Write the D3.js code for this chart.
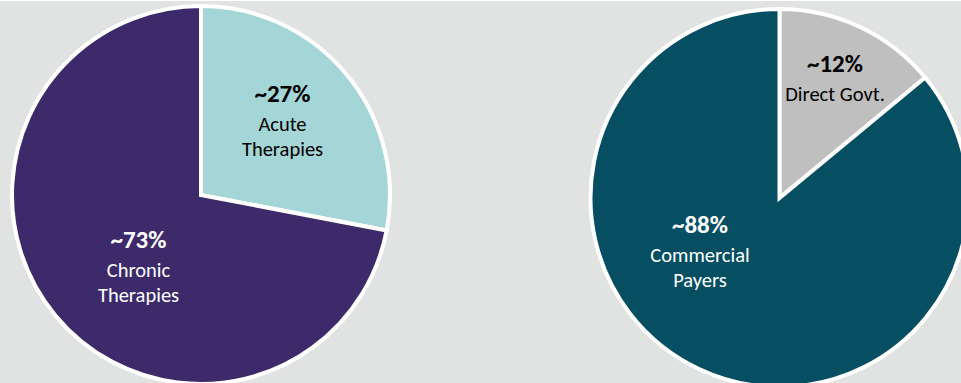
<!DOCTYPE html>
<html>
<head>
<meta charset="utf-8">
<script src="https://cdn.jsdelivr.net/npm/d3@7"></script>
<style>
  html, body { margin: 0; padding: 0; background: #ffffff; }
  svg { display: block; }
  text { font-family: Carlito, Lato, "Open Sans", sans-serif; }
</style>
</head>
<body>
<svg id="chart"></svg>
<script>
// slice shares as drawn (labels are rounded "~" figures)
const therapyNames = ["Acute Therapies", "Chronic Therapies"];
const therapyShares = [28, 72];
const therapyLabels = ["~27%", "~73%"];
const therapyLines = [["Acute", "Therapies"], ["Chronic", "Therapies"]];

const payerNames = ["Direct Govt.", "Commercial Payers"];
const payerShares = [14, 86];
const payerLabels = ["~12%", "~88%"];
const payerLines = [["Direct Govt."], ["Commercial", "Payers"]];

const width = 961;
const height = 383;
const radius = 189;

const svg = d3.select("#chart")
  .attr("width", width)
  .attr("height", height);

svg.append("rect")
  .attr("x", 0).attr("y", 1)
  .attr("width", width).attr("height", height - 1)
  .attr("fill", "#e1e2e2");

// where each pie sits and where its text blocks go (offset from pie centre)
const pies = [
  {
    cx: 201, cy: 195,
    shares: therapyShares, names: therapyNames, labels: therapyLabels, lines: therapyLines,
    colors: ["#a4d6d7", "#3c2a6b"], textColors: ["#000000", "#ffffff"],
    textPos: [[81.5, -93], [-62.5, 53]]
  },
  {
    cx: 779.5, cy: 198,
    shares: payerShares, names: payerNames, labels: payerLabels, lines: payerLines,
    colors: ["#bfbfbf", "#064f63"], textColors: ["#000000", "#ffffff"],
    textPos: [[55.5, -126], [-79.5, 35]]
  }
];

const pie = d3.pie().sort(null).value(d => d);
const arc = d3.arc().innerRadius(0).outerRadius(radius);

pies.forEach(p => {
  const g = svg.append("g")
    .attr("transform", `translate(${p.cx},${p.cy})`);

  g.selectAll("path")
    .data(pie(p.shares))
    .enter().append("path")
    .attr("d", arc)
    .attr("fill", (d, i) => p.colors[i])
    .attr("stroke", "#ffffff")
    .attr("stroke-width", 4)
    .attr("stroke-linejoin", "miter");

  const labels = g.selectAll("g.lbl")
    .data(p.shares)
    .enter().append("g")
    .attr("class", "lbl")
    .attr("transform", (d, i) => `translate(${p.textPos[i][0]},${p.textPos[i][1]})`)
    .attr("fill", (d, i) => p.textColors[i])
    .attr("text-anchor", "middle");

  labels.append("text")
    .style("font-size", "25px")
    .style("font-weight", "bold")
    .text((d, i) => p.labels[i]);

  labels.each(function(d, i) {
    d3.select(this).selectAll("text.line")
      .data(p.lines[i])
      .enter().append("text")
      .attr("class", "line")
      .attr("y", (t, j) => 29 + j * 25)
      .style("font-size", "20.5px")
      .text(t => t);
  });
});
</script>
</body>
</html>
